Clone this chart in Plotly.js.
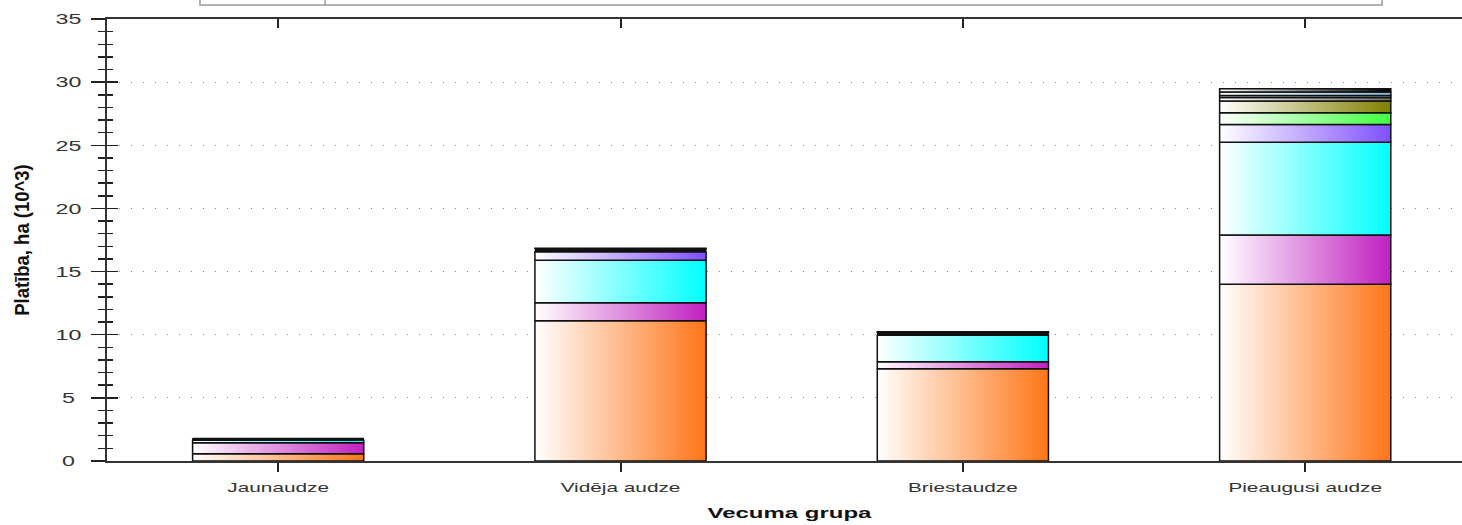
<!DOCTYPE html>
<html>
<head>
<meta charset="utf-8">
<script src="https://cdn.plot.ly/plotly-3.0.1.min.js"></script>
<style>
  html, body { margin: 0; padding: 0; background: #ffffff; overflow: hidden; }
  #chart { width: 1462px; height: 525px; }
</style>
</head>
<body>
<div id="chart"></div>
<script>
// ---- data (thousand ha) ----
const categories = ["Jaunaudze", "Vidēja audze", "Briestaudze", "Pieaugusi audze"];
const seriesNames = ["Priede", "Egle", "Bērzs", "Apse", "Melnalksnis", "Baltalksnis", "Ozols", "Osis", "Liepa", "Citas"];
const priede      = [0.57, 11.10, 7.30, 14.00];
const egle        = [0.87,  1.43, 0.55,  3.90];
const berzs       = [0.20,  3.37, 2.11,  7.35];
const apse        = [0.02,  0.66, 0.04,  1.40];
const melnalksnis = [0.02,  0.05, 0.03,  0.92];
const baltalksnis = [0.02,  0.05, 0.03,  0.93];
const ozols       = [0.02,  0.04, 0.03,  0.28];
const osis        = [0.04,  0.03, 0.02,  0.16];
const liepa       = [0.02,  0.04, 0.03,  0.27];
const citas       = [0.05,  0.08, 0.10,  0.26];
const seriesValues = [priede, egle, berzs, apse, melnalksnis, baltalksnis, ozols, osis, liepa, citas];
const seriesColors = ["#FF7518", "#C020C0", "#00FFFF", "#8050FF", "#40FF40", "#808000", "#707070", "#C8C8C8", "#80C0E0", "#000000"];
const yTickVals = [0, 5, 10, 15, 20, 25, 30, 35];

// ---- build stacked gradient bars ----
const barWidth = 0.5;
const traces = [];
const cumulative = categories.map(() => 0);
seriesValues.forEach((vals, s) => {
  vals.forEach((v, i) => {
    const base = cumulative[i];
    const top = base + v;
    cumulative[i] = top;
    const x0 = i - barWidth / 2, x1 = i + barWidth / 2;
    traces.push({
      type: "scatter",
      mode: "lines",
      x: [x0, x1, x1, x0, x0],
      y: [base, base, top, top, base],
      fill: "toself",
      fillcolor: seriesColors[s],
      fillgradient: { type: "horizontal", colorscale: [[0, "#FFFFFF"], [1, seriesColors[s]]] },
      line: { color: "#111111", width: 1.5 },
      name: seriesNames[s] + " – " + categories[i],
      showlegend: false,
      hoverinfo: "name+y"
    });
  });
});

const baseFont = "Liberation Sans, Arial, sans-serif";
const xRange = [-0.5, 3.458];
const yRange = [0, 35];

const layout = {
  width: 1462, height: 525,
  paper_bgcolor: "#ffffff", plot_bgcolor: "#ffffff",
  margin: { l: 107, r: 0, t: 19, b: 64 },
  showlegend: false,
  xaxis: {
    type: "linear", range: xRange, fixedrange: true,
    tickvals: categories.map((c, i) => i), ticktext: categories,
    ticks: "outside", ticklen: 9, tickwidth: 2, tickcolor: "#222222",
    showline: true, linecolor: "#333333", linewidth: 2,
    showgrid: false, zeroline: false,
    tickfont: { family: baseFont, size: 13, color: "#333333" },
    ticklabelstandoff: 4,
    title: { text: "Vecuma grupa", standoff: 14,
             font: { family: baseFont, size: 15, color: "#111111", weight: "bold" } }
  },
  xaxis2: {
    type: "linear", range: xRange, overlaying: "x", side: "top", anchor: "y",
    tickvals: categories.map((c, i) => i), showticklabels: false,
    ticks: "inside", ticklen: 9, tickwidth: 2, tickcolor: "#222222",
    showline: true, linecolor: "#333333", linewidth: 2,
    showgrid: false, zeroline: false, fixedrange: true
  },
  yaxis: {
    range: yRange, tickvals: yTickVals, fixedrange: true,
    ticks: "outside", ticklen: 14, tickwidth: 1.5, tickcolor: "#222222",
    minor: { dtick: 1, tick0: 0, ticks: "outside", ticklen: 7, tickwidth: 1.5, tickcolor: "#222222", showgrid: false },
    showline: true, linecolor: "#333333", linewidth: 2,
    showgrid: true, gridcolor: "#E06A6A", gridwidth: 1, griddash: "1px,11px",
    zeroline: false,
    tickfont: { family: baseFont, size: 15, color: "#333333" },
    ticklabelstandoff: 10,
    title: { text: "Platība, ha (10^3)", standoff: 28,
             font: { family: baseFont, size: 18.5, color: "#111111", weight: "bold" } }
  },
  yaxis2: {
    range: yRange, overlaying: "y", side: "left", anchor: "x", tickvals: yTickVals,
    showticklabels: false, fixedrange: true,
    ticks: "inside", ticklen: 11, tickwidth: 1.5, tickcolor: "#222222",
    minor: { dtick: 1, tick0: 0, ticks: "inside", ticklen: 6, tickwidth: 1.5, tickcolor: "#222222", showgrid: false },
    showline: false, showgrid: false, zeroline: false
  },
  shapes: [
    { type: "rect", xref: "paper", yref: "paper", x0: 0.0686, x1: 0.941, y0: 1.0317, y1: 1.07,
      line: { color: "#9A9A9A", width: 1.5 }, fillcolor: "rgba(255,255,255,0)", layer: "above" },
    { type: "line", xref: "paper", yref: "paper", x0: 0.161, x1: 0.161, y0: 1.0317, y1: 1.07,
      line: { color: "#777777", width: 1 }, layer: "above" }
  ]
};

// empty trace so the overlay axes are drawn
traces.push({ type: "scatter", mode: "lines", x: [null], y: [null], xaxis: "x2", yaxis: "y2", showlegend: false, hoverinfo: "skip" });

// horizontal stretch of text (the reference text is wide); targetX in page px or own centre
function stretchText(el, s, targetX) {
  const svg = el.ownerSVGElement;
  const r = el.getBoundingClientRect();
  const m = el.parentNode.getScreenCTM().inverse();
  const pt = svg.createSVGPoint();
  pt.y = 0;
  pt.x = (r.left + r.right) / 2;
  const cx = pt.matrixTransform(m).x;
  pt.x = (targetX === undefined) ? (r.left + r.right) / 2 : targetX;
  const tx = pt.matrixTransform(m).x;
  const old = el.getAttribute("transform") || "";
  el.setAttribute("transform", "translate(" + tx + ",0) scale(" + s + ",1) translate(" + (-cx) + ",0) " + old);
}

Plotly.newPlot("chart", traces, layout, { displayModeBar: false, staticPlot: true }).then(function (gd) {
  gd.querySelectorAll("g.xtick text").forEach(function (t) { stretchText(t, 1.6); });
  gd.querySelectorAll("g.ytick text").forEach(function (t) { stretchText(t, 1.55, 68.5); });
  const xt = gd.querySelector("text.xtitle");
  if (xt) stretchText(xt, 1.6, 790);
  const yt = gd.querySelector("text.ytitle");
  if (yt) stretchText(yt, 1.05, 22);
});
</script>
</body>
</html>
